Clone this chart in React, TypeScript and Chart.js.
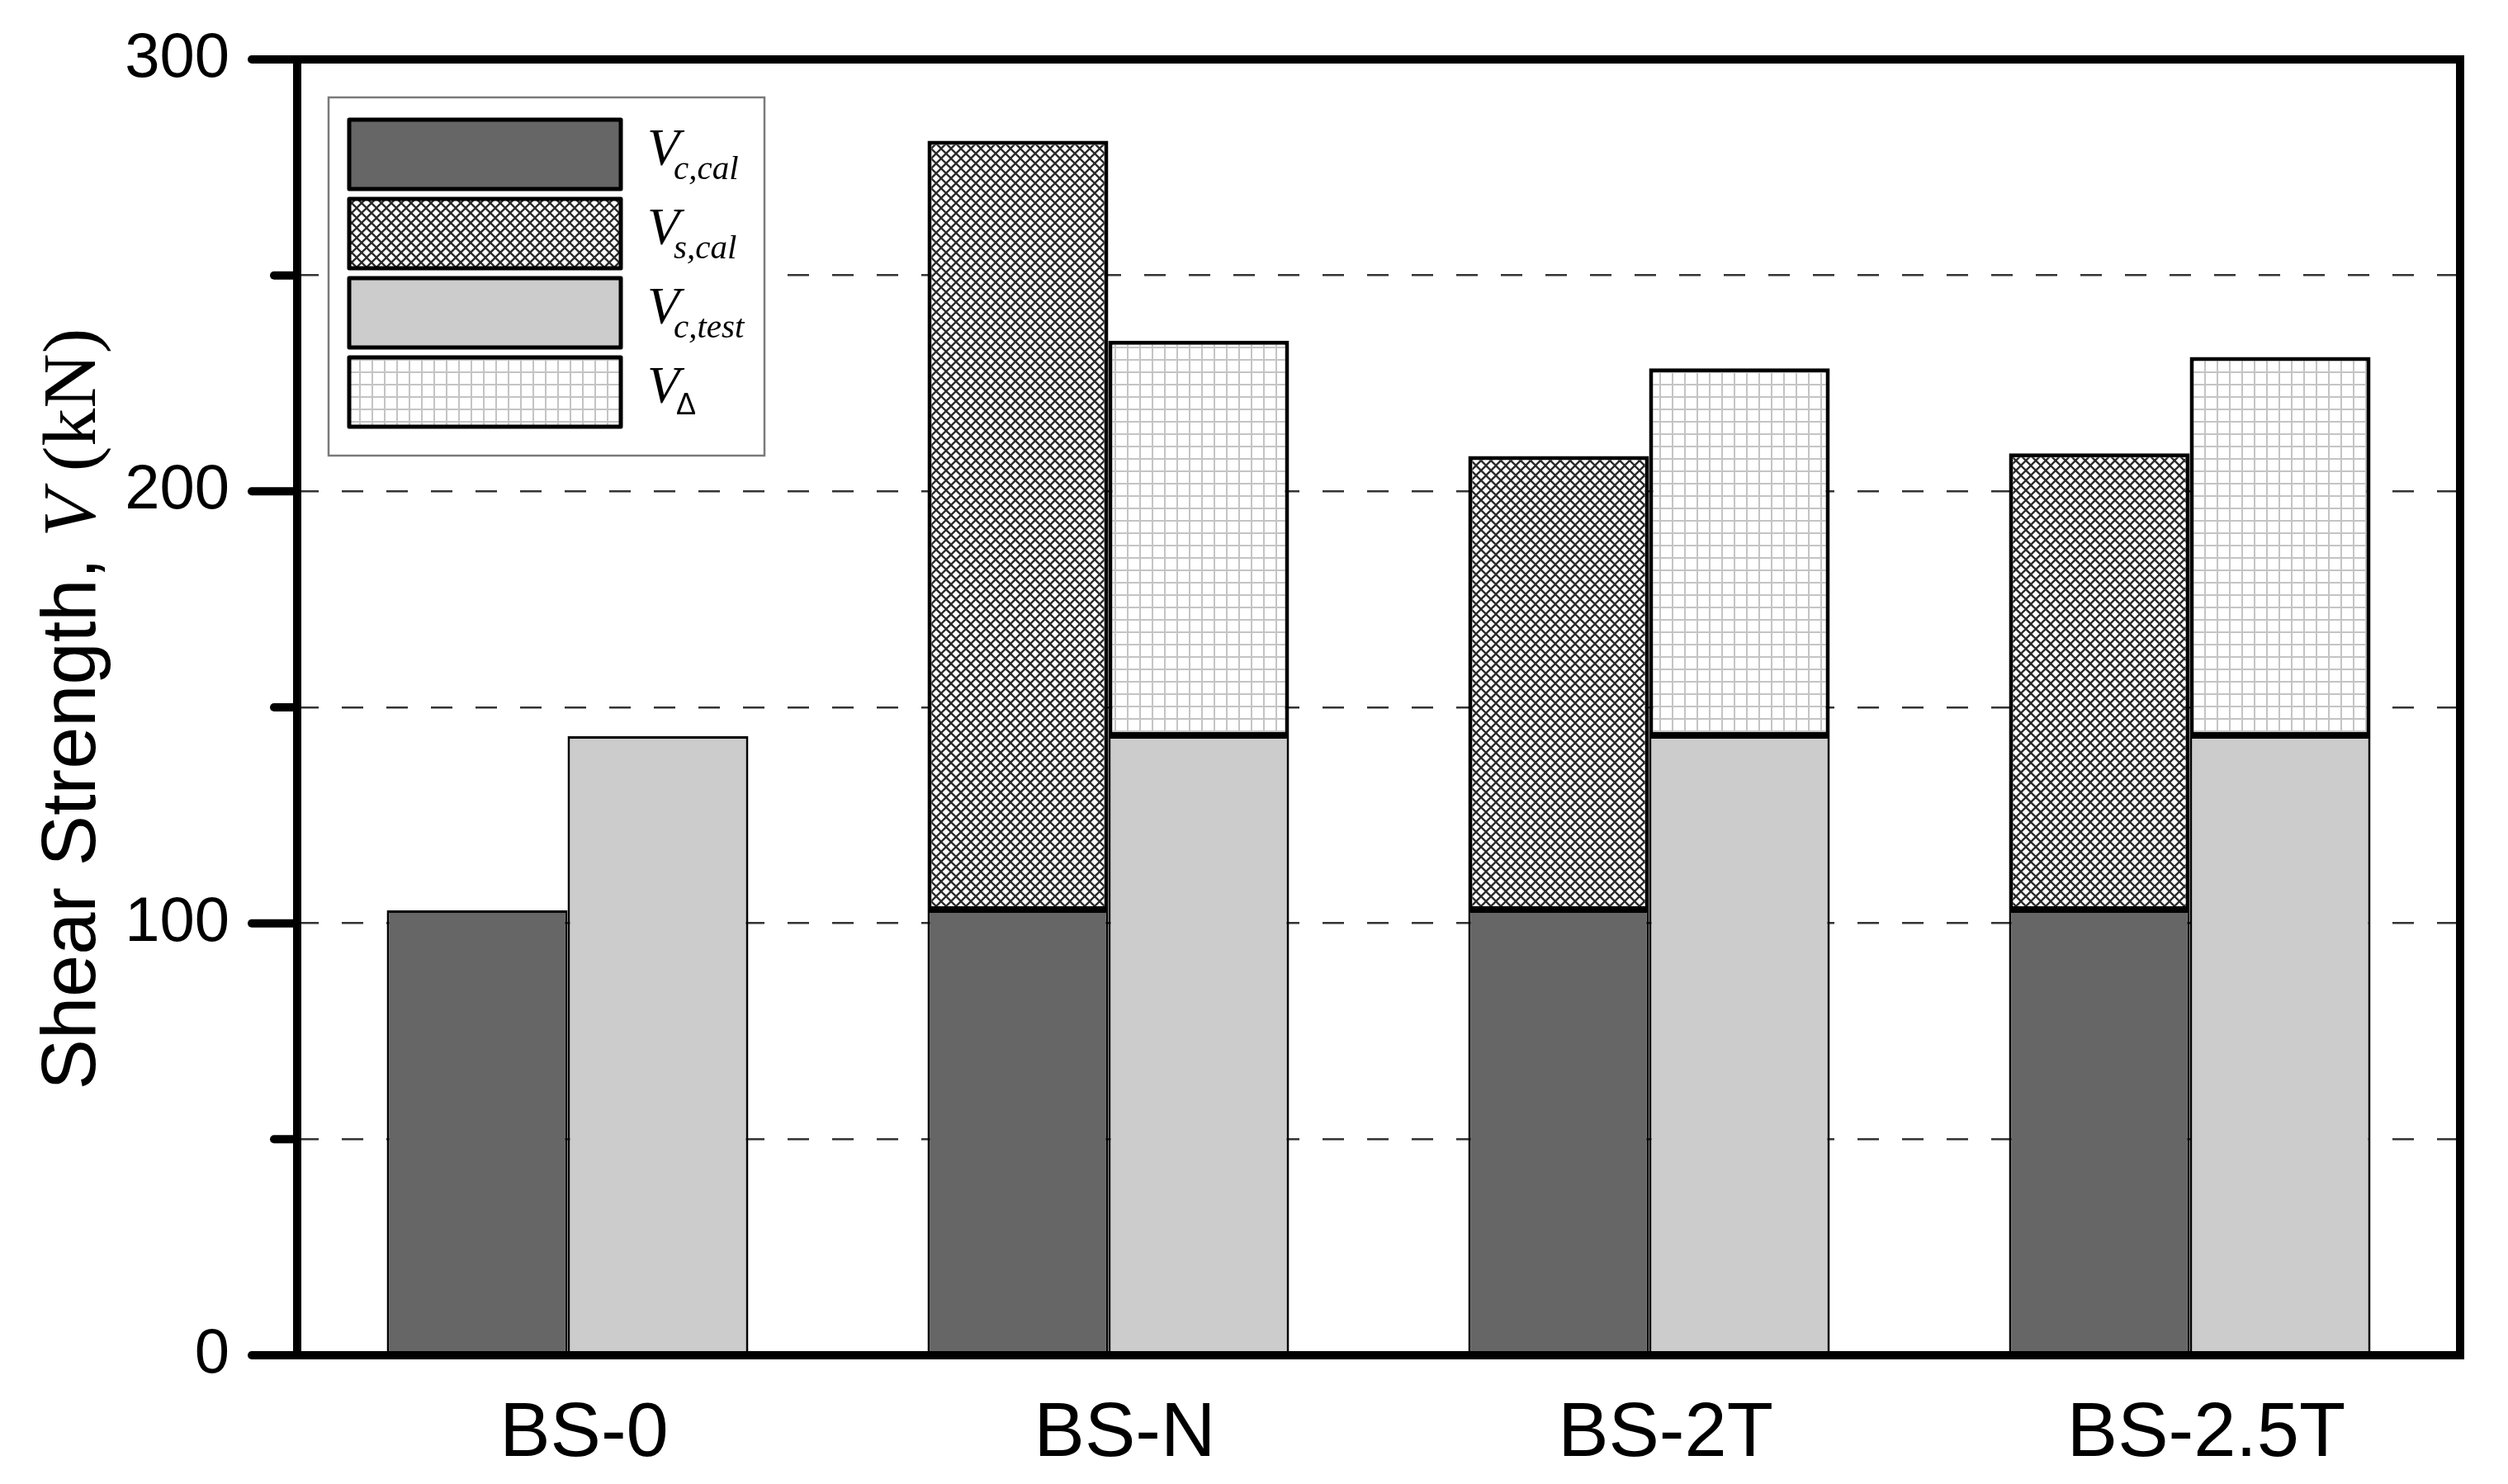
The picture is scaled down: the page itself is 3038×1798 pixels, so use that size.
import React, { useEffect, useRef } from 'react';
import { Chart, registerables } from 'chart.js';

Chart.register(...registerables);

// ---- data ----
const categories = ['BS-0', 'BS-N', 'BS-2T', 'BS-2.5T'];
const vcCal = [103, 103, 103, 103];
const vsCal = [null, 178.2, 105.2, 105.8];
const vcTest = [143.3, 143.3, 143.3, 143.3];
const vDelta = [null, 91.6, 85.2, 87.8];
const yLabelledTicks = [0, 100, 200, 300];
const yMinorTicks = [50, 150, 250];
const legendSubs = ['c,cal', 's,cal', 'c,test', 'Δ'];

const SANS = '"Liberation Sans", Arial, Helvetica, sans-serif';
const SERIF = '"Liberation Serif", "Times New Roman", serif';

function makeCrossPattern(ctx: CanvasRenderingContext2D) {
  const s = 12;
  const c = document.createElement('canvas');
  c.width = s; c.height = s;
  const g = c.getContext('2d')!;
  g.fillStyle = '#ffffff';
  g.fillRect(0, 0, s, s);
  g.strokeStyle = '#2a2a2a';
  g.lineWidth = 2.3;
  for (const o of [-s, 0, s]) {
    g.beginPath(); g.moveTo(o, 0); g.lineTo(o + s, s); g.stroke();
    g.beginPath(); g.moveTo(o, s); g.lineTo(o + s, 0); g.stroke();
  }
  return ctx.createPattern(c, 'repeat')!;
}

function makeGridPattern(ctx: CanvasRenderingContext2D) {
  const s = 15;
  const c = document.createElement('canvas');
  c.width = s; c.height = s;
  const g = c.getContext('2d')!;
  g.fillStyle = '#ffffff';
  g.fillRect(0, 0, s, s);
  g.fillStyle = '#c4c4c4';
  g.fillRect(0, 0, 2, s);
  g.fillRect(0, 0, s, 2);
  return ctx.createPattern(c, 'repeat')!;
}

export default function App() {
  const ref = useRef<HTMLCanvasElement | null>(null);

  useEffect(() => {
    const canvas = ref.current!;
    const ctx0 = canvas.getContext('2d')!;
    const cross = makeCrossPattern(ctx0);
    const grid = makeGridPattern(ctx0);
    const legendFills: any[] = ['#666666', cross, '#cccccc', grid];

    const framePlugin = {
      id: 'frame',
      afterDatasetsDraw(chart: any) {
        const { ctx, chartArea } = chart;
        const y = chart.scales.y;
        ctx.save();
        ctx.strokeStyle = '#000';
        ctx.lineWidth = 10;
        ctx.lineJoin = 'miter';
        ctx.strokeRect(chartArea.left, chartArea.top, chartArea.right - chartArea.left, chartArea.bottom - chartArea.top);
        ctx.lineCap = 'round';
        for (const v of yLabelledTicks) {
          const py = y.getPixelForValue(v);
          ctx.beginPath(); ctx.moveTo(chartArea.left - 55, py); ctx.lineTo(chartArea.left, py); ctx.stroke();
        }
        for (const v of yMinorTicks) {
          const py = y.getPixelForValue(v);
          ctx.beginPath(); ctx.moveTo(chartArea.left - 28, py); ctx.lineTo(chartArea.left, py); ctx.stroke();
        }
        ctx.restore();
      },
    };

    const legendPlugin = {
      id: 'customLegend',
      afterDraw(chart: any) {
        const { ctx, chartArea } = chart;
        const bx = chartArea.left + 38;
        const by = chartArea.top + 46;
        ctx.save();
        ctx.fillStyle = '#ffffff';
        ctx.fillRect(bx, by, 528, 434);
        ctx.strokeStyle = '#7a7a7a';
        ctx.lineWidth = 2.5;
        ctx.strokeRect(bx, by, 528, 434);
        const sx = bx + 25;
        const sw = 329;
        const sh = 84;
        for (let i = 0; i < 4; i++) {
          const sy = by + 27 + i * 96;
          ctx.fillStyle = legendFills[i];
          ctx.fillRect(sx, sy, sw, sh);
          ctx.strokeStyle = '#000';
          ctx.lineWidth = 5;
          ctx.lineJoin = 'round';
          ctx.strokeRect(sx, sy, sw, sh);
          const base = sy + sh / 2 + 13;
          ctx.fillStyle = '#000';
          ctx.textBaseline = 'alphabetic';
          ctx.textAlign = 'left';
          ctx.font = `italic 64px ${SERIF}`;
          ctx.fillText('V', bx + 386, base);
          if (legendSubs[i] === 'Δ') {
            ctx.font = `36px ${SANS}`;
            ctx.fillText(legendSubs[i], bx + 421, base + 14);
          } else {
            ctx.font = `italic 41px ${SERIF}`;
            ctx.fillText(legendSubs[i], bx + 418, base + 17);
          }
        }
        ctx.restore();
      },
    };

    const yTitlePlugin = {
      id: 'yTitle',
      afterDraw(chart: any) {
        const { ctx, chartArea } = chart;
        const pieces = [
          { t: 'Shear Strength, ', f: `92px ${SANS}` },
          { t: 'V', f: `italic 92px ${SERIF}` },
          { t: ' (kN)', f: `92px ${SERIF}` },
        ];
        ctx.save();
        let total = 0;
        for (const p of pieces) { ctx.font = p.f; total += ctx.measureText(p.t).width; }
        ctx.translate(115, (chartArea.top + chartArea.bottom) / 2 + 2);
        ctx.rotate(-Math.PI / 2);
        ctx.fillStyle = '#000';
        ctx.textBaseline = 'alphabetic';
        ctx.textAlign = 'left';
        let x = -total / 2;
        for (const p of pieces) {
          ctx.font = p.f;
          ctx.fillText(p.t, x, 0);
          x += ctx.measureText(p.t).width;
        }
        ctx.restore();
      },
    };

    const chart = new Chart(canvas, {
      type: 'bar',
      data: {
        labels: categories,
        datasets: [
          { label: 'Vc,cal', data: vcCal as any, stack: 'cal', backgroundColor: '#666666', borderColor: '#000', borderWidth: 3, borderSkipped: false },
          { label: 'Vs,cal', data: vsCal as any, stack: 'cal', backgroundColor: cross, borderColor: '#000', borderWidth: 5, borderSkipped: false },
          { label: 'Vc,test', data: vcTest as any, stack: 'test', backgroundColor: '#cccccc', borderColor: '#000', borderWidth: 3, borderSkipped: false },
          { label: 'VΔ', data: vDelta as any, stack: 'test', backgroundColor: grid, borderColor: '#000', borderWidth: 5, borderSkipped: false },
        ] as any,
      },
      options: {
        animation: false,
        responsive: false,
        devicePixelRatio: 1,
        layout: { padding: { left: 0, right: 58, top: 72, bottom: 0 } },
        datasets: { bar: { categoryPercentage: 0.6687, barPercentage: 1 } } as any,
        plugins: { legend: { display: false }, tooltip: { enabled: false }, title: { display: false } },
        scales: {
          x: {
            type: 'category',
            stacked: true,
            offset: true,
            grid: { display: false },
            border: { display: false },
            ticks: { color: '#000', font: { size: 92, family: SANS }, padding: 33, labelOffset: 20, maxRotation: 0 },
            afterFit: (s: any) => { s.height = 156; s.paddingLeft = 0; s.paddingRight = 0; },
          },
          y: {
            stacked: true,
            min: 0,
            max: 300,
            ticks: {
              stepSize: 50,
              color: '#000',
              font: { size: 76, family: SANS },
              padding: 82,
              callback: (v: any) => (Number(v) % 100 === 0 ? String(v) : ''),
            },
            grid: {
              drawTicks: false,
              lineWidth: 2.5,
              color: (c: any) => (c.tick && (c.tick.value === 0 || c.tick.value === 300) ? 'rgba(0,0,0,0)' : '#333333'),
            },
            border: { display: false, dash: [26, 28] },
            afterFit: (s: any) => { s.width = 360; s.paddingTop = 0; s.paddingBottom = 0; },
          },
        } as any,
      },
      plugins: [framePlugin, legendPlugin, yTitlePlugin],
    });
    return () => chart.destroy();
  }, []);

  return (
    <div style={{ position: 'fixed', left: 0, top: 0, width: 3038, height: 1798, background: '#fff' }}>
      <canvas ref={ref} width={3038} height={1798} style={{ display: 'block', width: 3038, height: 1798 }} />
    </div>
  );
}
